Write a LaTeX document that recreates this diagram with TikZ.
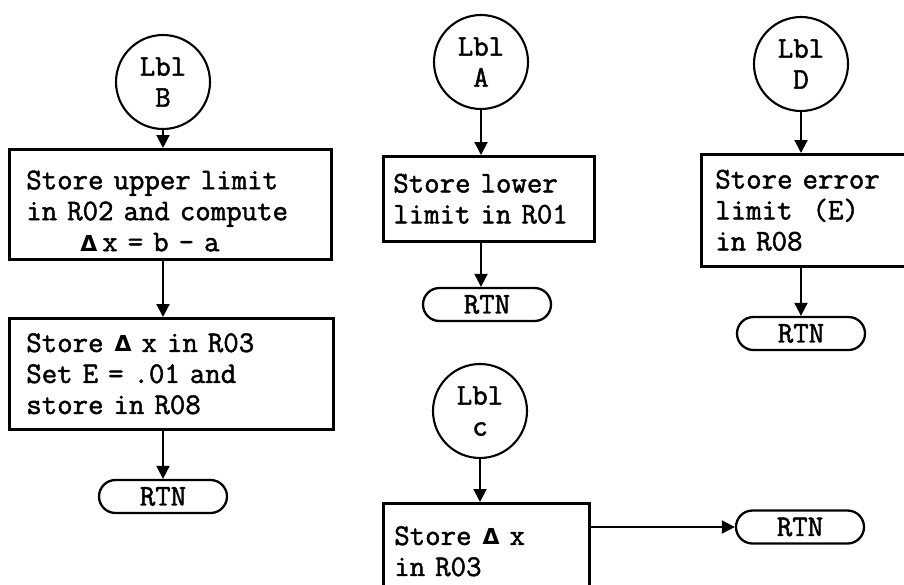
\documentclass[tikz,border=0pt]{standalone}
\usepackage[no-math]{fontspec}
\newfontfamily\tw{Latin Modern Mono}[FakeBold=1.6]
\newfontfamily\dv{DejaVu Sans}
\usetikzlibrary{arrows.meta,shapes.misc}
\newcommand\dlt[1]{\makebox[#1][l]{\hspace{1pt}\dv\bfseries\fontsize{22}{22}\selectfont Δ}}
\begin{document}
\begin{tikzpicture}[x=1pt,y=-1pt,
  font=\tw\fontsize{30}{31}\selectfont,
  lbl/.style={circle,draw,line width=2.1pt,minimum size=94pt,inner sep=0pt,align=center},
  stepbox/.style={draw,line width=2.6pt,align=left,inner ysep=0pt,anchor=north west},
  rtn/.style={draw,line width=2.3pt,rounded rectangle,minimum width=128pt,minimum height=33pt,inner sep=0pt},
  flow/.style={line width=2pt,-{Triangle[length=13pt,width=13pt]}}]
\useasboundingbox (0,0) rectangle (904,584);
% column B
\node[lbl] (cB) at (163,82) {Lbl\\B};
\node[stepbox,text width=288pt,inner xsep=17pt,minimum height=110pt] (b1) at (8,148)
  {\rule{0pt}{32pt}Store upper limit\\in R02 and compute\\\hspace*{53pt}\dlt{23pt}x = b - a};
\node[stepbox,text width=290pt,inner xsep=17pt,minimum height=111pt] (b2) at (8,317)
  {Store \dlt{28pt}x in R03\\Set E = .01 and\\store in R08};
\node[rtn] (rB) at (163,496.5) {RTN};
% column A
\node[lbl] (cA) at (481,62) {Lbl\\A};
\node[stepbox,text width=191pt,inner xsep=10pt,minimum height=85pt] (bA) at (382,155)
  {Store lower\\limit in R01};
\node[rtn] (rA) at (487,304.5) {RTN};
% column D
\node[lbl] (cD) at (801,64) {Lbl\\D};
\node[stepbox,text width=205pt,inner xsep=14pt,minimum height=112pt] (bD) at (700,153)
  {Store error\\limit~~(E)\\in R08};
\node[rtn] (rD) at (801,333.5) {RTN};
% column C
\node[lbl] (cC) at (480,411) {Lbl\\c};
\node[stepbox,text width=184pt,inner xsep=11pt,minimum height=96pt] (bC) at (382,502)
  {Store \dlt{28pt}x\\in R03};
\node[rtn] (rC) at (800,527) {RTN};
% connectors
\draw[flow] (cB.south) -- (cB.south |- b1.north);
\draw[flow] (b1.south -| cB) -- (b2.north -| cB);
\draw[flow] (b2.south -| cB) -- (rB.north);
\draw[flow] (cA.south) -- (cA.south |- bA.north);
\draw[flow] (bA.south -| cA) -- (rA.north -| cA);
\draw[flow] (cD.south) -- (cD.south |- bD.north);
\draw[flow] (bD.south -| cD) -- (rD.north);
\draw[flow] (cC.south) -- (cC.south |- bC.north);
\draw[flow] (bC.east |- rC.west) -- (rC.west);
\end{tikzpicture}
\end{document}
